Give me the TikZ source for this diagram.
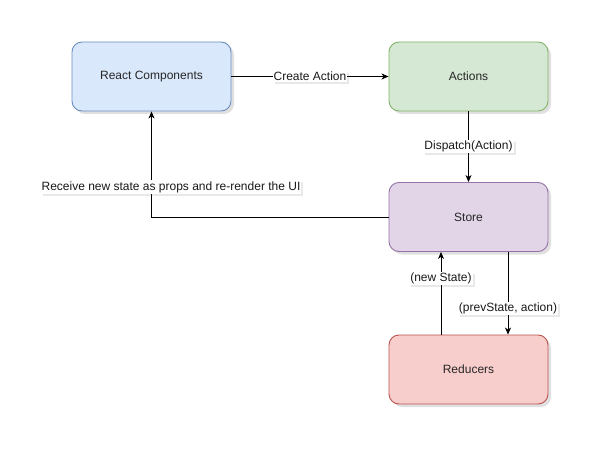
\documentclass[tikz,border=0pt]{standalone}
\usepackage{fontspec}
\setmainfont{Liberation Sans}
\usetikzlibrary{shadows,arrows.meta}
\definecolor{bfill}{HTML}{DAE8FC}\definecolor{bline}{HTML}{6C8EBF}
\definecolor{gfill}{HTML}{D5E8D4}\definecolor{gline}{HTML}{82B366}
\definecolor{pfill}{HTML}{E1D5E7}\definecolor{pline}{HTML}{9673A6}
\definecolor{rfill}{HTML}{F8CECC}\definecolor{rline}{HTML}{B85450}
\tikzset{
  boxnode/.style={draw, line width=0.9pt, rounded corners=10pt, minimum width=159pt, minimum height=69pt, inner sep=0pt,
    font=\fontsize{12}{14}\selectfont, text=black!85,
    drop shadow={shadow xshift=3pt, shadow yshift=-3pt, opacity=0.2, fill=black!60}},
  conn/.style={draw=black, line width=0.8pt, -{Stealth[length=7pt,width=6pt,inset=2pt]}},
  lbl/.style={fill=white, inner sep=1pt, font=\fontsize{12}{14}\selectfont, text=black!90,
    drop shadow={shadow xshift=2pt, shadow yshift=-2pt, opacity=0.15, fill=black!60}}
}
\begin{document}
\begin{tikzpicture}[x=1pt,y=-1pt]
\useasboundingbox (0,0) rectangle (603,452);
\fill[white] (0,0) rectangle (603,452);
\node[boxnode, fill=bfill, draw=bline] (rc) at (151.5,76.5) {React Components};
\node[boxnode, fill=gfill, draw=gline] (act) at (468.5,76.5) {Actions};
\node[boxnode, fill=pfill, draw=pline] (st) at (468.5,217) {Store};
\node[boxnode, fill=rfill, draw=rline] (red) at (468.5,369.5) {Reducers};
\draw[conn] (rc.east) -- node[lbl] {Create Action} (act.west);
\draw[conn] (act.south) -- node[lbl, pos=0.5] {Dispatch(Action)} (st.north);
\coordinate (bend) at (151.5,217);
\draw[conn] (st.west) -- (bend) -- (rc.south);
\node[lbl] (l1) at (171,187) {Receive new state as props and re-render the UI};
\draw[conn] (red.north -| 441,0) -- node[lbl, pos=0.68] {(new State)} (st.south -| 441,0);
\draw[conn] (st.south -| 508,0) -- node[lbl, pos=0.68] {(prevState, action)} (red.north -| 508,0);
\end{tikzpicture}
\end{document}
